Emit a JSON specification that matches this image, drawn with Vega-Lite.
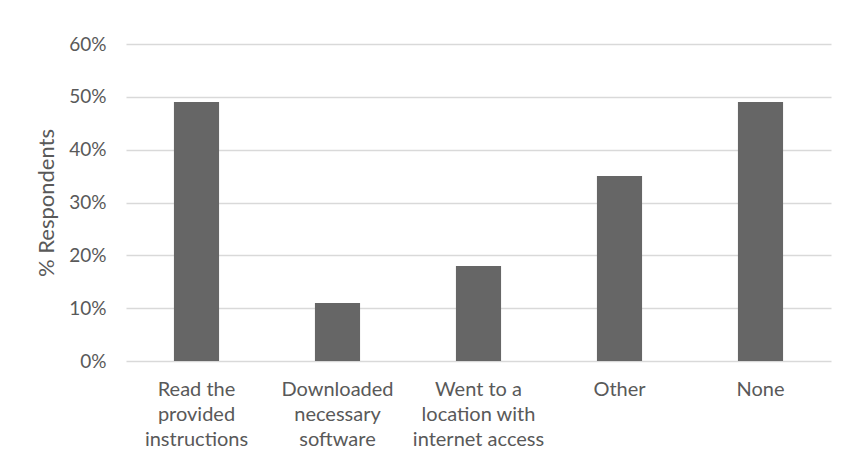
{
  "$schema": "https://vega.github.io/schema/vega-lite/v6.json",
  "autosize": "none",
  "width": 705,
  "height": 317,
  "padding": {"left": 126, "top": 44, "right": 13, "bottom": 102},
  "background": "white",
  "config": {
    "view": {"stroke": null},
    "font": "Lato",
    "axis": {"labelFont": "Lato", "titleFont": "Lato", "labelColor": "#595959", "titleColor": "#595959"}
  },
  "data": {
    "values": [
      {"category": "Read the provided instructions", "pct": 0.49},
      {"category": "Downloaded necessary software", "pct": 0.11},
      {"category": "Went to a location with internet access", "pct": 0.18},
      {"category": "Other", "pct": 0.35},
      {"category": "None", "pct": 0.49}
    ]
  },
  "mark": {"type": "bar", "color": "#666666"},
  "encoding": {
    "x": {
      "field": "category",
      "type": "nominal",
      "sort": null,
      "scale": {"paddingInner": 0.68, "paddingOuter": 0.34},
      "axis": {
        "title": null,
        "labelAngle": 0,
        "domain": false,
        "ticks": false,
        "labelFontSize": 20,
        "labelPadding": 18,
        "labelBaseline": "top",
        "labelLineHeight": 25,
        "labelExpr": "({'Read the provided instructions': ['Read the', 'provided', 'instructions'], 'Downloaded necessary software': ['Downloaded', 'necessary', 'software'], 'Went to a location with internet access': ['Went to a', 'location with', 'internet access'], 'Other': ['Other'], 'None': ['None']})[datum.value]"
      }
    },
    "y": {
      "field": "pct",
      "type": "quantitative",
      "scale": {"domain": [0, 0.6]},
      "axis": {
        "title": "% Respondents",
        "titleFontSize": 22,
        "titleFontWeight": "normal",
        "titlePadding": 10,
        "values": [0, 0.1, 0.2, 0.3, 0.4, 0.5, 0.6],
        "format": ".0%",
        "domain": false,
        "ticks": false,
        "labelFontSize": 19,
        "labelPadding": 20,
        "gridColor": "#d9d9d9",
        "gridWidth": 1.5
      }
    }
  }
}
